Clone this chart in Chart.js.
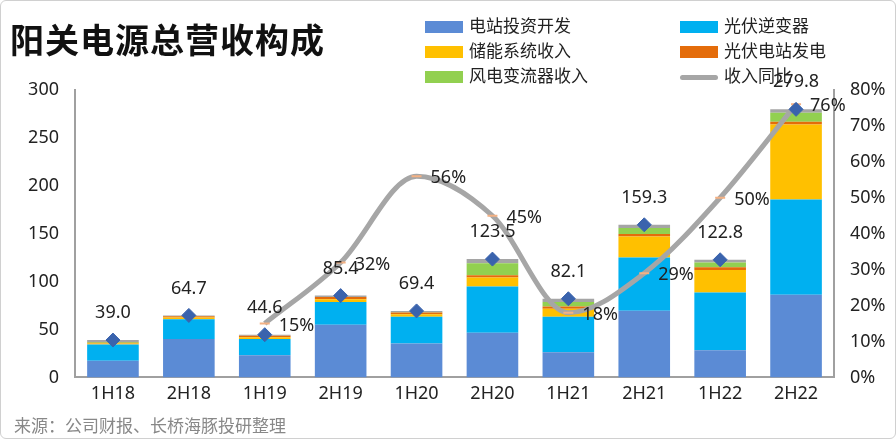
<!DOCTYPE html>
<html><head><meta charset="utf-8">
<script src="https://cdn.jsdelivr.net/npm/chart.js@4"></script>
<style>
body{margin:0;width:896px;height:439px;overflow:hidden;background:#fff;font-family:"Noto Sans CJK SC",sans-serif}
#wrap{position:absolute;left:0;top:0;width:894px;height:437px;border:1px solid #d0d0d0;border-radius:6px}
#title{position:absolute;left:10px;top:14px;font-size:34px;font-weight:bold;color:#111;letter-spacing:1px}
#src{position:absolute;left:14px;top:412px;font-size:17px;color:#888}
#legend{position:absolute;left:425px;top:12px;width:440px;font-size:17px;color:#222}
.li{position:absolute;white-space:nowrap}
.sw{display:inline-block;width:38px;height:12px;vertical-align:middle;margin-right:6px}
canvas{position:absolute;left:0;top:0}
</style></head><body>
<div id="wrap"></div>
<canvas id="c" width="896" height="439"></canvas>
<div id="title">阳关电源总营收构成</div>
<div id="legend"></div>
<div id="src">来源：公司财报、长桥海豚投研整理</div>
<script>
const categories=["1H18","2H18","1H19","2H19","1H20","2H20","1H21","2H21","1H22","2H22"];
const stationDev=[17.5,40.2,23.0,55.0,35.3,46.5,26.2,69.6,28.3,86.4];
const pvInverter=[16.8,20.6,17.2,23.7,28.0,48.3,37.1,55.6,60.2,99.3];
const storage=[1.0,1.6,1.8,2.8,2.7,9.4,8.4,22.0,23.7,78.3];
const pvPower=[0.8,1.4,1.4,2.5,1.8,2.4,2.4,2.5,2.8,2.8];
const windConv=[0.8,0.3,0.0,0.0,0.3,12.6,4.6,6.3,4.9,9.4];
const other=[2.1,0.6,1.2,1.4,1.3,4.3,3.4,3.3,2.9,3.6];
const totals=[39.0,64.7,44.6,85.4,69.4,123.5,82.1,159.3,122.8,279.8];
const growth=[null,null,15,32,56,45,18,29,50,76];
const leftTicks=[0,50,100,150,200,250,300];
const rightTicks=[0,10,20,30,40,50,60,70,80];

const bars=[["电站投资开发",stationDev,"#5b8bd5"],["光伏逆变器",pvInverter,"#00b0f0"],["储能系统收入",storage,"#ffc000"],["光伏电站发电",pvPower,"#e46c0a"],["风电变流器收入",windConv,"#92d050"],["其他",other,"#a5a5a5"]];
const ds=bars.map(b=>({type:'bar',label:b[0],data:b[1],backgroundColor:b[2],stack:'s',yAxisID:'y',barPercentage:0.68,categoryPercentage:1,order:3}));
ds.push({type:'line',label:'收入同比',data:growth,yAxisID:'y1',borderColor:'#a6a6a6',borderWidth:5,tension:0.45,cubicInterpolationMode:'monotone',pointStyle:'line',pointRadius:5,pointBorderColor:'#f4b183',pointBorderWidth:2,order:1});
ds.push({type:'line',label:'total',data:totals,yAxisID:'y',showLine:false,pointStyle:'rectRot',pointRadius:7,pointBackgroundColor:'#3a63ad',pointBorderColor:'#3a63ad',order:0});

const leg=[["电站投资开发","#5b8bd5"],["光伏逆变器","#00b0f0"],["储能系统收入","#ffc000"],["光伏电站发电","#e46c0a"],["风电变流器收入","#92d050"],["收入同比","line"]];
const L=document.getElementById('legend');
leg.forEach((l,i)=>{const d=document.createElement('div');d.className='li';d.style.left=(i%2?255:0)+'px';d.style.top=(Math.floor(i/2)*25)+'px';
d.innerHTML=(l[1]=='line'?'<span class="sw" style="height:5px;background:#a6a6a6;border-radius:3px"></span>':'<span class="sw" style="background:'+l[1]+'"></span>')+l[0];L.appendChild(d);});

const labels={id:'lbl',afterDatasetsDraw(c){const ctx=c.ctx;ctx.save();ctx.font='18px "Noto Sans",sans-serif';ctx.fillStyle='#222';
const tm=c.getDatasetMeta(7);tm.data.forEach((p,i)=>{ctx.textAlign='center';ctx.textBaseline='middle';ctx.fillText(totals[i].toFixed(1),p.x,p.y-27);});
const gm=c.getDatasetMeta(6);gm.data.forEach((p,i)=>{if(growth[i]==null)return;ctx.textAlign='left';ctx.fillText(growth[i]+'%',p.x+14,p.y+2);});
ctx.restore();}};

new Chart(document.getElementById('c'),{data:{labels:categories,datasets:ds},plugins:[labels],
options:{responsive:false,animation:false,layout:{padding:{top:90,bottom:28,left:0,right:0}},
plugins:{legend:{display:false},tooltip:{enabled:false}},
scales:{x:{grid:{display:false,drawTicks:false},border:{color:'#a0a0a0',width:2},ticks:{color:'#222',font:{size:18,family:'"Noto Sans"'},padding:6}},
y:{position:'left',min:0,max:300,afterBuildTicks(s){s.ticks=leftTicks.map(v=>({value:v}));},afterFit(s){s.width=75;},grid:{display:false},border:{color:'#a0a0a0',width:2},ticks:{color:'#222',font:{size:18,family:'"Noto Sans"'},padding:8}},
y1:{position:'right',min:0,max:80,afterBuildTicks(s){s.ticks=rightTicks.map(v=>({value:v}));},afterFit(s){s.width=62;},grid:{display:false},border:{color:'#a0a0a0',width:2},ticks:{color:'#222',font:{size:18,family:'"Noto Sans"'},padding:8,callback:v=>v+'%'}}}}});
</script></body></html>
